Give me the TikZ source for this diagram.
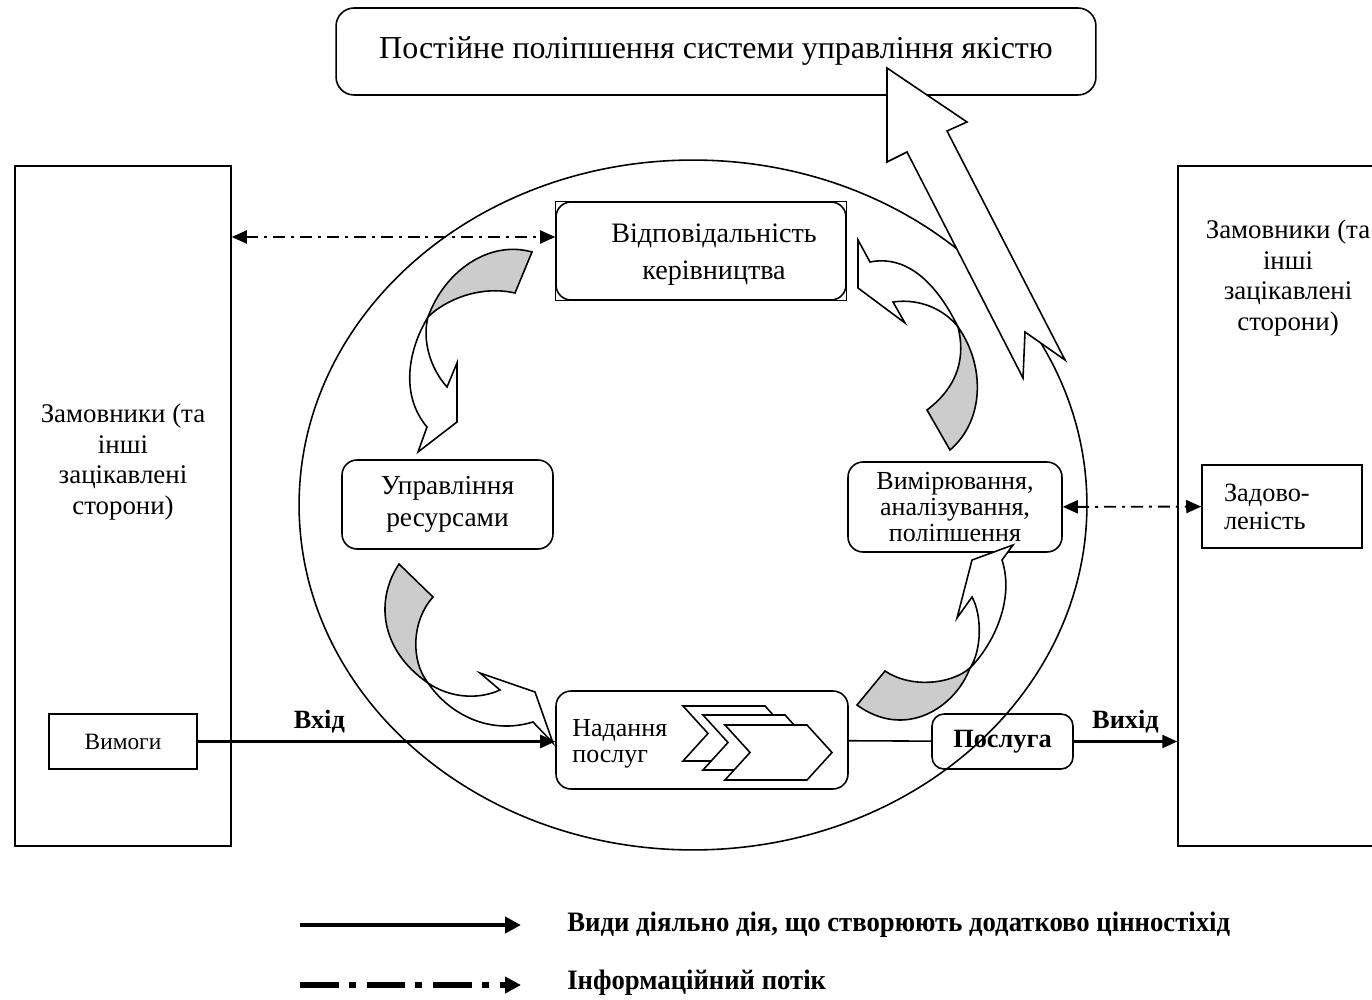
\documentclass[tikz,border=0pt]{standalone}
\usepackage{fontspec}
\setmainfont{Liberation Serif}
\newfontfamily\legendfont[FakeStretch=0.95]{Liberation Serif}
\usepackage{tikz}
\usetikzlibrary{arrows.meta}
\definecolor{bandgray}{RGB}{204,204,204}

\begin{document}
\begin{tikzpicture}[x=0.02cm, y=-0.02cm, >={Triangle[length=0.3cm,width=0.26cm]},
  box/.style={draw, line width=0.9pt, inner sep=0pt, align=center},
  rbox/.style={box, rounded corners=0.3cm},
  txt/.style={inner sep=0pt, align=center},
  bigtxt/.style={font=\fontsize{16}{21}\selectfont},
  midtxt/.style={font=\fontsize{15.3}{17.6}\selectfont},
  smalltxt/.style={font=\fontsize{14.8}{14.6}\selectfont},
  lbl/.style={font=\bfseries\fontsize{15}{17}\selectfont, inner sep=0pt},
  flow/.style={->, line width=1.4pt},
  info/.style={<->, line width=1.1pt, dash pattern=on 6.8pt off 3.4pt on 1.7pt off 3.4pt},
  band/.style={draw, line width=0.9pt, fill=white, line join=miter},
  backside/.style={band, fill=bandgray},
  chev/.style={draw, line width=0.9pt, fill=white},
  legflow/.style={-{Triangle[length=0.32cm,width=0.32cm]}, line width=2.8pt},
  leginfo/.style={legflow, line width=3.4pt, dash pattern=on 22pt off 5.7pt on 4pt off 6.2pt},
  legtxt/.style={font=\legendfont\bfseries\fontsize{16}{19}\selectfont, inner sep=0pt, anchor=west}]
  \clip (0,0) rectangle (1372,1000);

  % outer boxes
  \node[rbox, font=\fontsize{18.2}{21}\selectfont, rounded corners=0.36cm, minimum width=15.2cm, minimum height=1.74cm]
        (goal) at (716,51.5) {Постійне поліпшення системи управління якістю};
  \node[box, minimum width=4.32cm, minimum height=13.6cm] (lcust) at (123,506) {};
  \node[txt, midtxt] (lcusttxt) at (123,462) {Замовники (та\\інші\\зацікавлені\\сторони)};
  \node[box, minimum width=4.44cm, minimum height=13.6cm] (rcust) at (1289,506) {};
  \node[txt, midtxt] (rcusttxt) at (1288,278) {Замовники (та\\інші\\зацікавлені\\сторони)};
  \node[box, font=\fontsize{13.3}{15}\selectfont, minimum width=2.96cm, minimum height=1.1cm] (req) at (123,741.5) {Вимоги};
  \node[box, font=\fontsize{15}{15.9}\selectfont, align=left, text width=2.32cm, inner xsep=0.44cm,
        minimum width=3.2cm, minimum height=1.66cm] (sat) at (1282,506.5) {Задово-\\леність};

  % process circle
  \draw[line width=0.9pt] (693,505) ellipse [x radius=7.88cm, y radius=6.9cm];
  \node[rbox, minimum width=5.8cm, minimum height=1.96cm] (mgmt) at (701,251) {};
  \draw[line width=0.6pt] (mgmt.south west) rectangle (mgmt.north east);
  \node[txt, bigtxt] (mgmttxt) at (714,255) {Відповідальність\\керівництва};
  \node[rbox, midtxt, font=\fontsize{15.6}{17.8}\selectfont, minimum width=4.22cm, minimum height=1.78cm] (res) at (447.5,504.5)
        {Управління\\ресурсами};
  \node[rbox, smalltxt, minimum width=4.28cm, minimum height=1.8cm] (meas) at (955,507) {Вимірювання,\\аналізування,\\поліпшення};
  \node[rbox, minimum width=5.84cm, minimum height=1.96cm] (serv) at (702,740) {};
  \node[txt, smalltxt, anchor=west, align=left] (servtxt) at (572,744) {Надання\\послуг};
  \foreach \dx/\dy in {0/0, 20/9, 42/19}
    \draw[chev] (683+\dx,706+\dy) -- ++(82,0) -- ++(25,27.5) -- ++(-25,27.5) -- ++(-82,0) -- ++(25,-27.5) -- cycle;
  \node[rbox, lbl, rounded corners=0.24cm, minimum width=2.82cm, minimum height=1.1cm] (prod) at (1002.5,741.5) {Послуга};

  % flows
  \draw[flow] (req) -- node[lbl, above=4pt, pos=0.34] (inlbl) {Вхід} (req -| serv.west);
  \draw[line width=0.9pt] (serv) -- (prod);
  \draw[flow] (prod) -- node[lbl, above=4pt] (outlbl) {Вихід} (prod -| rcust.west);
  \draw[info] (lcust.east |- 0,237) -- (mgmt.west |- 0,237);
  \draw[info] (meas) -- (sat);

  % curved arrows of the cycle
  \draw[band] (428,317) .. controls (408,350) and (400,395) .. (427,427) -- (418,452) -- (457,422) -- (457,363)
        -- (447,387) .. controls (430,368) and (422,340) .. (428,317) -- cycle;
  \draw[backside] (532,252) .. controls (490,240) and (445,270) .. (428,317)
        .. controls (445,300) and (480,285) .. (515,293) -- cycle;
  \draw[band] (428,683) .. controls (450,715) and (490,735) .. (533,722) -- (553,743) -- (535,692) -- (480,673)
        -- (500,690) .. controls (478,700) and (450,698) .. (428,683) -- cycle;
  \draw[backside] (399,564) .. controls (375,600) and (380,650) .. (428,683)
        .. controls (410,660) and (412,620) .. (433,597) -- cycle;
  \draw[band] (970,668) .. controls (993,645) and (1015,600) .. (1002,560) -- (1013,545) -- (972,560) -- (957,618)
        -- (972,597) .. controls (982,615) and (982,650) .. (970,668) -- cycle;
  \draw[backside] (857,705) -- (885,671) .. controls (910,688) and (950,685) .. (970,668)
        .. controls (955,708) and (905,740) .. (857,705) -- cycle;
  \draw[band] (958,327) .. controls (935,280) and (905,255) .. (870,262) -- (858,240) -- (858,288) -- (905,323)
        -- (893,302) .. controls (920,298) and (945,310) .. (958,327) -- cycle;
  \draw[backside] (927,410) -- (950,450) .. controls (985,420) and (985,365) .. (958,327)
        .. controls (965,355) and (960,385) .. (927,410) -- cycle;

  % improvement arrow
  \draw[band] (887,68) -- (887,162) -- (907,152) -- (1023,378) -- (1025,332) -- (1065,360) -- (947,131) -- (967,122) -- cycle;

  % legend
  \coordinate (leg1s) at (300,925);
  \coordinate (leg1e) at (521,925);
  \draw[legflow] (leg1s) -- (leg1e);
  \node[legtxt] (leg1) at (567,925) {Види діяльно дія, що створюють додатково цінностіхід};
  \coordinate (leg2s) at (300,985);
  \coordinate (leg2e) at (521,985);
  \draw[leginfo] (leg2s) -- (leg2e);
  \node[legtxt] (leg2) at (567,983) {Інформаційний потік};
\end{tikzpicture}
\end{document}
